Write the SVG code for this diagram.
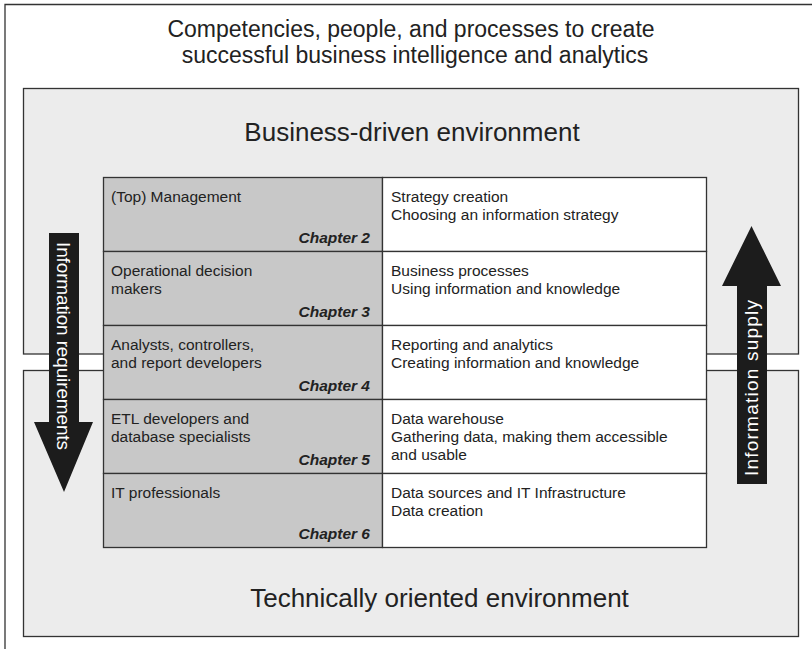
<svg xmlns="http://www.w3.org/2000/svg" width="812" height="649" viewBox="0 0 812 649">
<style>
text{font-family:"Liberation Sans",Arial,sans-serif;fill:#222}
.title{font-size:23px;text-anchor:middle}
.env{font-size:26px;text-anchor:middle}
.cell{font-size:15.5px}
.chap{font-size:15.5px;font-weight:bold;font-style:italic;text-anchor:end}
.box{fill:#ececec;stroke:#333;stroke-width:1.3}
.lc{fill:#c8c8c8;stroke:#333;stroke-width:1.3}
.rc{fill:#fff;stroke:#333;stroke-width:1.3}
.arrow{fill:#1c1c1c}
.atext{fill:#fff;font-size:19px;text-anchor:middle}
</style>
<rect width="812" height="649" fill="#fff"/>
<path d="M5,649 V4.5 H812" fill="none" stroke="#333" stroke-width="1.3"/>
<g id="title">
<text class="title" x="411" y="37">Competencies, people, and processes to create</text>
<text class="title" x="415" y="63">successful business intelligence and analytics</text>
</g>
<g id="business-env">
<rect class="box" x="23.5" y="88.5" width="775" height="265.5"/>
<text class="env" x="412" y="141">Business-driven environment</text>
</g>
<g id="technical-env">
<rect class="box" x="23.5" y="370.5" width="775" height="266"/>
<text class="env" x="439.5" y="607">Technically oriented environment</text>
</g>
<g id="row-management">
<rect class="lc" x="103.5" y="177.5" width="279" height="74"/>
<rect class="rc" x="382.5" y="177.5" width="324" height="74"/>
<text class="cell" x="111" y="202">(Top) Management</text>
<text class="chap" x="370" y="243">Chapter 2</text>
<text class="cell" x="391" y="202">Strategy creation</text>
<text class="cell" x="391" y="220">Choosing an information strategy</text>
</g>
<g id="row-operational">
<rect class="lc" x="103.5" y="251.5" width="279" height="74"/>
<rect class="rc" x="382.5" y="251.5" width="324" height="74"/>
<text class="cell" x="111" y="276">Operational decision</text>
<text class="cell" x="111" y="294">makers</text>
<text class="chap" x="370" y="317">Chapter 3</text>
<text class="cell" x="391" y="276">Business processes</text>
<text class="cell" x="391" y="294">Using information and knowledge</text>
</g>
<g id="row-analysts">
<rect class="lc" x="103.5" y="325.5" width="279" height="74"/>
<rect class="rc" x="382.5" y="325.5" width="324" height="74"/>
<text class="cell" x="111" y="350">Analysts, controllers,</text>
<text class="cell" x="111" y="368">and report developers</text>
<text class="chap" x="370" y="391">Chapter 4</text>
<text class="cell" x="391" y="350">Reporting and analytics</text>
<text class="cell" x="391" y="368">Creating information and knowledge</text>
</g>
<g id="row-etl">
<rect class="lc" x="103.5" y="399.5" width="279" height="74"/>
<rect class="rc" x="382.5" y="399.5" width="324" height="74"/>
<text class="cell" x="111" y="424">ETL developers and</text>
<text class="cell" x="111" y="442">database specialists</text>
<text class="chap" x="370" y="465">Chapter 5</text>
<text class="cell" x="391" y="424">Data warehouse</text>
<text class="cell" x="391" y="442">Gathering data, making them accessible</text>
<text class="cell" x="391" y="460">and usable</text>
</g>
<g id="row-it">
<rect class="lc" x="103.5" y="473.5" width="279" height="74"/>
<rect class="rc" x="382.5" y="473.5" width="324" height="74"/>
<text class="cell" x="111" y="498">IT professionals</text>
<text class="chap" x="370" y="539">Chapter 6</text>
<text class="cell" x="391" y="498">Data sources and IT Infrastructure</text>
<text class="cell" x="391" y="516">Data creation</text>
</g>
<g id="connectors">
<g id="arrow-requirements">
<polygon class="arrow" points="49,233 79,233 79,422 93,422 64,492 34,422 49,422"/>
<text class="atext" transform="translate(57,346) rotate(90)" textLength="208">Information requirements</text>
</g>
<g id="arrow-supply">
<polygon class="arrow" points="737,484 737,286 722,286 751.5,226 781,286 767,286 767,484"/>
<text class="atext" transform="translate(758,388) rotate(-90)" textLength="176">Information supply</text>
</g>
</g>
</svg>
